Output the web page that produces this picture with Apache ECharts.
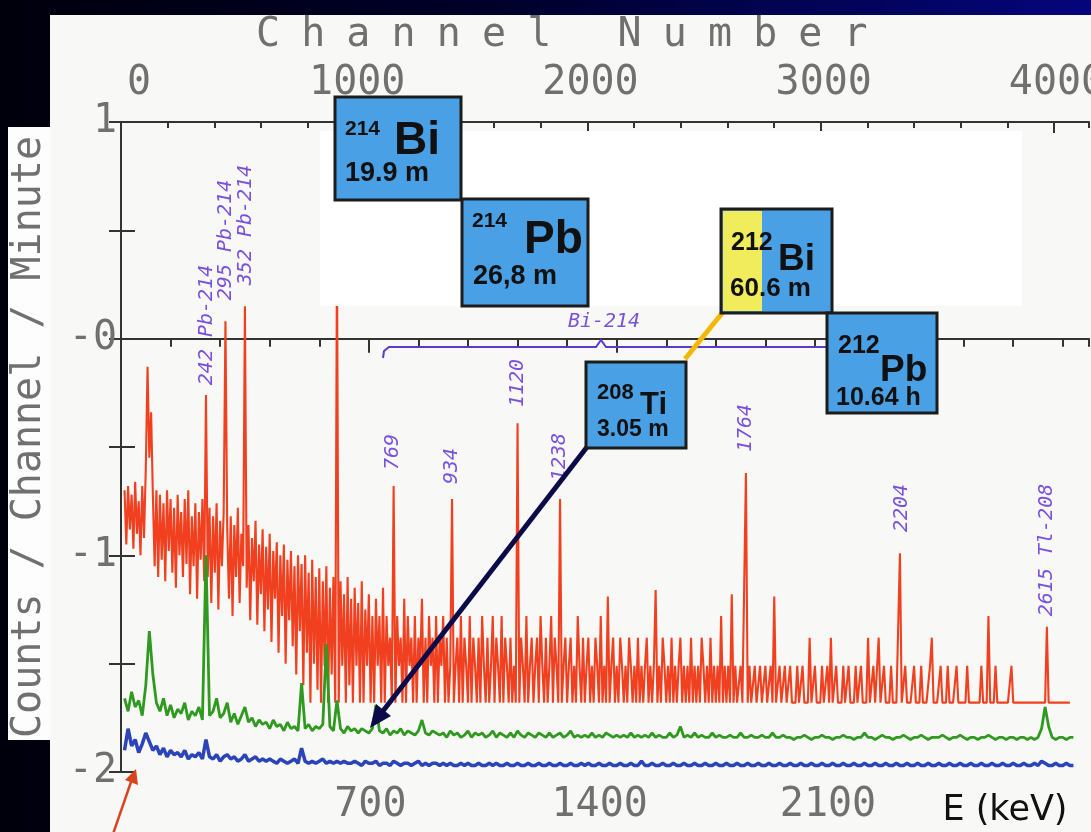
<!DOCTYPE html>
<html><head><meta charset="utf-8">
<script src="https://cdn.jsdelivr.net/npm/echarts@6/dist/echarts.min.js"></script>
<style>
html,body{margin:0;padding:0;width:1091px;height:832px;overflow:hidden;background:linear-gradient(90deg,#00000c 0%,#00002a 45%,#05057c 100%);}
#paper{position:absolute;left:50px;top:15px;width:1041px;height:817px;background:#f8f8f6;}
#chart{position:absolute;left:0;top:0;width:1091px;height:832px;}
</style></head><body><div id="paper"></div><div id="chart"></div>
<script>
// ---- data: log10(counts / channel / minute) ----
// red: 5 keV bins starting at 10 keV
const redStartKeV = 10, redBinKeV = 5;
const redSpectrum = [
-0.70,-0.95,-0.68,-0.88,-0.72,-0.97,-0.66,-0.90,-0.75,-1.00,
-0.68,-0.92,-0.60,-0.13,-0.55,-0.34,-0.72,-1.05,-0.70,-1.10,
-0.72,-1.02,-0.76,-1.12,-0.70,-0.98,-0.74,-1.08,-0.78,-1.15,
-0.72,-1.00,-0.80,-1.10,-0.74,-1.04,-0.70,-1.18,-0.82,-1.05,
-0.76,-1.20,-0.80,-1.02,-0.74,-1.12,-0.26,-1.10,-0.78,-1.22,
-0.82,-1.08,-0.76,-1.25,-0.84,-1.05,-0.80,0.08,-0.88,-1.20,
-0.82,-1.28,-0.86,-1.10,-0.78,-1.22,-0.90,-1.05,0.15,-1.15,
-0.86,-1.30,-0.92,-1.12,-0.84,-1.32,-0.95,-1.18,-0.88,-1.35,
-0.96,-1.25,-0.90,-1.40,-0.98,-1.20,-0.94,-1.45,-1.00,-1.28,
-0.95,-1.50,-1.02,-1.30,-0.98,-1.42,-1.05,-1.55,-1.00,-1.35,
-1.04,-1.60,-1.00,-1.45,-1.08,-1.68,-1.02,-1.50,-1.10,-1.62,
-1.06,-1.68,-1.12,-1.51,-1.05,-1.68,-1.15,-1.55,-1.10,-1.68,
0.40,-1.68,-1.12,-1.51,-1.18,-1.68,-1.10,-1.60,-1.20,-1.68,
-1.15,-1.51,-1.22,-1.68,-1.12,-1.68,-1.25,-1.51,-1.18,-1.68,
-1.28,-1.68,-1.20,-1.51,-1.28,-1.68,-1.15,-1.68,-1.28,-1.51,
-1.38,-1.68,-0.68,-1.68,-1.28,-1.51,-1.38,-1.68,-1.20,-1.68,
-1.28,-1.51,-1.38,-1.68,-1.28,-1.68,-1.38,-1.51,-1.20,-1.68,
-1.38,-1.68,-1.28,-1.51,-1.38,-1.68,-1.28,-1.68,-1.38,-1.51,
-1.28,-1.68,-1.38,-1.68,-1.51,-0.74,-1.68,-1.51,-1.38,-1.68,
-1.28,-1.68,-1.38,-1.51,-1.68,-1.28,-1.68,-1.38,-1.51,-1.68,
-1.38,-1.68,-1.28,-1.51,-1.68,-1.38,-1.68,-1.51,-1.28,-1.68,
-1.38,-1.51,-1.68,-1.28,-1.68,-1.38,-1.51,-1.68,-1.38,-1.68,
-1.51,-1.68,-0.39,-1.68,-1.38,-1.51,-1.68,-1.28,-1.68,-1.51,
-1.38,-1.68,-1.51,-1.38,-1.68,-1.28,-1.51,-1.68,-1.38,-1.68,
-1.51,-1.28,-1.68,-1.38,-1.51,-1.68,-0.74,-1.68,-1.51,-1.38,
-1.68,-1.51,-1.38,-1.68,-1.51,-1.68,-1.28,-1.51,-1.68,-1.38,
-1.68,-1.51,-1.38,-1.68,-1.51,-1.68,-1.38,-1.51,-1.68,-1.28,
-1.68,-1.51,-1.68,-1.19,-1.68,-1.51,-1.38,-1.68,-1.51,-1.68,
-1.38,-1.51,-1.68,-1.51,-1.68,-1.38,-1.51,-1.68,-1.51,-1.68,
-1.38,-1.68,-1.51,-1.68,-1.51,-1.38,-1.68,-1.51,-1.68,-1.51,
-1.16,-1.68,-1.51,-1.68,-1.38,-1.51,-1.68,-1.51,-1.68,-1.38,
-1.68,-1.51,-1.68,-1.51,-1.38,-1.68,-1.51,-1.68,-1.51,-1.68,
-1.38,-1.68,-1.51,-1.68,-1.51,-1.68,-1.38,-1.51,-1.68,-1.51,
-1.68,-1.38,-1.68,-1.51,-1.68,-1.51,-1.68,-1.28,-1.68,-1.51,
-1.68,-1.51,-1.68,-1.18,-1.68,-1.51,-1.68,-1.68,-1.51,-1.68,
-1.68,-0.62,-1.68,-1.51,-1.68,-1.68,-1.51,-1.68,-1.68,-1.51,
-1.68,-1.68,-1.51,-1.68,-1.68,-1.51,-1.68,-1.19,-1.68,-1.68,
-1.51,-1.68,-1.68,-1.51,-1.68,-1.68,-1.51,-1.68,-1.68,-1.68,
-1.51,-1.68,-1.68,-1.51,-1.68,-1.68,-1.68,-1.38,-1.68,-1.68,
-1.51,-1.68,-1.68,-1.68,-1.51,-1.68,-1.68,-1.51,-1.68,-1.38,
-1.68,-1.68,-1.51,-1.68,-1.68,-1.68,-1.51,-1.68,-1.68,-1.51,
-1.68,-1.68,-1.68,-1.51,-1.68,-1.68,-1.51,-1.68,-1.68,-1.68,
-1.38,-1.68,-1.68,-1.51,-1.68,-1.68,-1.38,-1.68,-1.68,-1.51,
-1.68,-1.68,-1.68,-1.51,-1.68,-1.68,-1.68,-1.68,-0.99,-1.68,
-1.68,-1.51,-1.68,-1.68,-1.68,-1.68,-1.51,-1.68,-1.68,-1.68,
-1.51,-1.68,-1.68,-1.68,-1.68,-1.51,-1.38,-1.68,-1.68,-1.68,
-1.68,-1.51,-1.68,-1.68,-1.68,-1.51,-1.68,-1.68,-1.68,-1.68,
-1.51,-1.68,-1.68,-1.68,-1.68,-1.68,-1.51,-1.68,-1.68,-1.68,
-1.68,-1.68,-1.68,-1.68,-1.51,-1.68,-1.68,-1.68,-1.28,-1.68,
-1.68,-1.68,-1.51,-1.68,-1.68,-1.68,-1.68,-1.68,-1.68,-1.68,
-1.68,-1.51,-1.68,-1.68,-1.68,-1.68,-1.68,-1.68,-1.68,-1.68,
-1.68,-1.68,-1.68,-1.68,-1.68,-1.68,-1.68,-1.68,-1.68,-1.68,
-1.68,-1.33,-1.68,-1.68,-1.68,-1.68,-1.68,-1.68,-1.68,-1.68,
-1.68,-1.68,-1.68,-1.68,-1.68
];
// green and blue: 10 keV bins starting at 10 keV
const gbStartKeV = 10, gbBinKeV = 10;
const greenSpectrum = [
-1.66,-1.72,-1.63,-1.70,-1.67,-1.74,-1.60,-1.35,-1.55,-1.68,
-1.72,-1.66,-1.74,-1.69,-1.75,-1.71,-1.73,-1.68,-1.76,-1.72,
-1.74,-1.70,-1.76,-1.00,-1.74,-1.72,-1.66,-1.75,-1.73,-1.68,
-1.77,-1.73,-1.78,-1.74,-1.70,-1.77,-1.75,-1.79,-1.76,-1.78,
-1.77,-1.80,-1.76,-1.79,-1.78,-1.81,-1.77,-1.80,-1.79,-1.81,
-1.59,-1.80,-1.78,-1.81,-1.79,-1.80,-1.78,-1.41,-1.79,-1.81,
-1.67,-1.80,-1.82,-1.79,-1.81,-1.80,-1.82,-1.80,-1.81,-1.82,
-1.80,-1.69,-1.81,-1.82,-1.80,-1.83,-1.81,-1.82,-1.80,-1.83,
-1.81,-1.82,-1.83,-1.81,-1.76,-1.82,-1.83,-1.81,-1.82,-1.83,
-1.82,-1.84,-1.81,-1.83,-1.82,-1.84,-1.83,-1.81,-1.84,-1.82,
-1.83,-1.82,-1.84,-1.83,-1.81,-1.84,-1.82,-1.83,-1.84,-1.82,
-1.84,-1.81,-1.83,-1.84,-1.82,-1.83,-1.84,-1.82,-1.83,-1.84,
-1.82,-1.84,-1.83,-1.82,-1.84,-1.83,-1.81,-1.84,-1.83,-1.84,
-1.83,-1.84,-1.82,-1.84,-1.83,-1.84,-1.82,-1.83,-1.84,-1.83,
-1.84,-1.83,-1.84,-1.82,-1.84,-1.83,-1.84,-1.83,-1.84,-1.82,
-1.84,-1.83,-1.84,-1.84,-1.82,-1.84,-1.83,-1.79,-1.84,-1.83,
-1.84,-1.82,-1.84,-1.83,-1.84,-1.84,-1.82,-1.84,-1.83,-1.84,
-1.84,-1.83,-1.84,-1.84,-1.82,-1.84,-1.84,-1.83,-1.84,-1.84,
-1.83,-1.84,-1.84,-1.82,-1.84,-1.84,-1.83,-1.84,-1.84,-1.85,
-1.84,-1.84,-1.83,-1.84,-1.85,-1.84,-1.84,-1.83,-1.84,-1.84,
-1.85,-1.84,-1.84,-1.83,-1.84,-1.84,-1.85,-1.84,-1.84,-1.82,
-1.84,-1.84,-1.85,-1.84,-1.83,-1.84,-1.84,-1.85,-1.84,-1.84,
-1.83,-1.84,-1.85,-1.84,-1.84,-1.83,-1.84,-1.85,-1.84,-1.84,
-1.84,-1.83,-1.84,-1.85,-1.84,-1.84,-1.83,-1.84,-1.85,-1.84,
-1.84,-1.85,-1.84,-1.84,-1.83,-1.84,-1.85,-1.84,-1.84,-1.85,
-1.84,-1.84,-1.85,-1.84,-1.84,-1.85,-1.84,-1.85,-1.84,-1.80,
-1.70,-1.79,-1.84,-1.85,-1.84,-1.84,-1.85,-1.84,-1.84
];
const blueSpectrum = [
-1.90,-1.80,-1.88,-1.85,-1.91,-1.87,-1.82,-1.86,-1.90,-1.88,
-1.92,-1.89,-1.93,-1.90,-1.92,-1.91,-1.93,-1.90,-1.94,-1.92,
-1.93,-1.91,-1.94,-1.85,-1.93,-1.94,-1.92,-1.95,-1.93,-1.92,
-1.94,-1.93,-1.95,-1.94,-1.92,-1.95,-1.94,-1.93,-1.95,-1.94,
-1.95,-1.94,-1.95,-1.96,-1.94,-1.95,-1.96,-1.95,-1.94,-1.96,
-1.89,-1.95,-1.96,-1.95,-1.96,-1.95,-1.94,-1.96,-1.95,-1.96,
-1.95,-1.96,-1.95,-1.96,-1.96,-1.95,-1.96,-1.97,-1.95,-1.96,
-1.96,-1.95,-1.97,-1.96,-1.96,-1.97,-1.95,-1.96,-1.97,-1.96,
-1.96,-1.97,-1.96,-1.95,-1.97,-1.96,-1.97,-1.96,-1.96,-1.97,
-1.96,-1.97,-1.96,-1.97,-1.97,-1.96,-1.97,-1.96,-1.97,-1.97,
-1.96,-1.97,-1.97,-1.96,-1.97,-1.96,-1.97,-1.97,-1.96,-1.97,
-1.97,-1.96,-1.97,-1.97,-1.96,-1.97,-1.97,-1.96,-1.97,-1.97,
-1.96,-1.97,-1.97,-1.96,-1.97,-1.97,-1.96,-1.97,-1.97,-1.96,
-1.97,-1.96,-1.97,-1.97,-1.96,-1.97,-1.97,-1.96,-1.97,-1.97,
-1.96,-1.97,-1.97,-1.96,-1.97,-1.97,-1.95,-1.97,-1.97,-1.96,
-1.97,-1.97,-1.96,-1.97,-1.97,-1.96,-1.97,-1.97,-1.96,-1.97,
-1.97,-1.96,-1.97,-1.97,-1.96,-1.97,-1.97,-1.96,-1.97,-1.97,
-1.96,-1.97,-1.97,-1.96,-1.97,-1.97,-1.96,-1.97,-1.97,-1.96,
-1.97,-1.97,-1.96,-1.97,-1.97,-1.96,-1.97,-1.97,-1.96,-1.97,
-1.97,-1.96,-1.97,-1.97,-1.96,-1.97,-1.97,-1.96,-1.97,-1.97,
-1.96,-1.97,-1.97,-1.96,-1.97,-1.97,-1.96,-1.97,-1.97,-1.96,
-1.97,-1.97,-1.96,-1.97,-1.97,-1.96,-1.97,-1.97,-1.96,-1.97,
-1.97,-1.96,-1.97,-1.97,-1.96,-1.97,-1.97,-1.96,-1.97,-1.97,
-1.96,-1.97,-1.97,-1.96,-1.97,-1.97,-1.96,-1.97,-1.97,-1.96,
-1.97,-1.97,-1.96,-1.97,-1.97,-1.96,-1.97,-1.97,-1.96,-1.97,
-1.97,-1.96,-1.97,-1.97,-1.96,-1.97,-1.97,-1.96,-1.97,-1.95,
-1.96,-1.97,-1.97,-1.96,-1.97,-1.97,-1.96,-1.97,-1.97
];
// peak annotations
const peakLabels = ['242 Pb-214','295 Pb-214','352 Pb-214','769','934','1120','1238','1764','2204','2615 Tl-208'];
const peakEnergies = [242,295,352,769,934,1120,1238,1764,2204,2615];
// axis tick labels
const energyTickLabels = [700,1400,2100];
const channelTickLabels = [0,1000,2000,3000,4000];
const logTickLabels = {'1':'1','0':'-0','-1':'-1','-2':'-2'};
const axisTitleTop = 'Channel Number';
const axisTitleLeft = 'Counts / Channel / Minute';
const axisTitleBottom = 'E (keV)';
// isotope boxes
const isotopes = [
  {mass:'214', sym:'Bi', life:'19.9 m'},
  {mass:'214', sym:'Pb', life:'26,8 m'},
  {mass:'212', sym:'Bi', life:'60.6 m'},
  {mass:'212', sym:'Pb', life:'10.64 h'},
  {mass:'208', sym:'Ti', life:'3.05 m'}
];
const bracketLabel = 'Bi-214';

// ---- layout / style ----
const keVPerChannel = 0.6588;
const energyMax = 2734;
const monoFont = '"DejaVu Sans Mono", monospace';
const boxFont = '"Liberation Sans", Arial, sans-serif';
const axisGray = '#707070';
const purple = '#7a50e0';
const peakLabelCenterY = [325, 240, 225, 452, 466, 383, 457, 428, 508, 550];
const boxLayout = [
  {x:335,y:97,w:126,h:103, mFs:21,sFs:46,lFs:27, mY:129,sY:141,lY:174, mX:345,sX:394,lX:345},
  {x:462,y:199,w:126,h:107, mFs:21,sFs:46,lFs:27, mY:221,sY:240,lY:277, mX:472,sX:524,lX:473},
  {x:721,y:209,w:111,h:104, mFs:25,sFs:37,lFs:26, mY:243,sY:260,lY:289, mX:731,sX:778,lX:730, yellow:39},
  {x:827,y:313,w:110,h:100, mFs:25,sFs:37,lFs:25, mY:346,sY:371,lY:398, mX:838,sX:880,lX:836},
  {x:586,y:362,w:100,h:86, mFs:22,sFs:31,lFs:23, mY:393,sY:405,lY:430, mX:597,sX:640,lX:597}
];

const redPairs = redSpectrum.map((v, i) => [redStartKeV + i * redBinKeV, v]);
const gbPairs = arr => arr.map((v, i) => [gbStartKeV + i * gbBinKeV, v]);
const chart = echarts.init(document.getElementById('chart'), null, {renderer:'canvas'});

const lineAx = {lineStyle:{color:'#333', width:2}};
const baseY = {type:'value', min:-2, max:1, splitLine:{show:false}};
const labelFont = {fontSize:40, fontFamily:monoFont, color:axisGray};
const option = {
  backgroundColor:'transparent',
  animation:false,
  grid:{left:121, right:2, top:122, bottom:60, containLabel:false, outerBoundsMode:'none'},
  xAxis:[
    {type:'value', position:'bottom', min:0, max:energyMax, interval:140, splitLine:{show:false},
     axisLine:lineAx, axisTick:{length:8, lineStyle:{color:'#333', width:2}}, axisLabel:{show:false}},
    {type:'value', position:'bottom', min:0, max:energyMax, interval:700, splitLine:{show:false},
     axisLine:{show:false}, axisTick:{length:14, lineStyle:{color:'#333', width:2}},
     axisLabel:{margin:14, showMaxLabel:false,
       formatter: v => v === energyTickLabels[0] ? '{a|' + v + '}' : v === energyTickLabels[1] ? '{b|' + v + '}' : v === energyTickLabels[2] ? '{c|' + v + '}' : '',
       rich:{a:Object.assign({padding:[0,0,0,3]}, labelFont),
             b:Object.assign({padding:[0,34,0,0]}, labelFont),
             c:Object.assign({padding:[0,73,0,0]}, labelFont)}}},
    {type:'value', position:'top', min:0, max:energyMax / keVPerChannel, interval:200, splitLine:{show:false},
     axisLine:lineAx, axisTick:{inside:true, length:6, lineStyle:{color:'#333', width:2}}, axisLabel:{show:false}},
    {type:'value', position:'top', min:0, max:energyMax / keVPerChannel, interval:1000, splitLine:{show:false},
     axisLine:{show:false}, axisTick:{inside:true, length:11, lineStyle:{color:'#333', width:2}},
     axisLabel:Object.assign({margin:18, alignMinLabel:'left', showMaxLabel:false, padding:[0,0,0,6],
       formatter: v => channelTickLabels.indexOf(v) >= 0 ? String(v) : ''}, labelFont)}
  ],
  yAxis:[
    Object.assign({}, baseY, {position:'left', interval:0.5, axisLine:lineAx,
      axisTick:{inside:true, length:14, lineStyle:{color:'#333', width:2}},
      axisLabel:Object.assign({margin:4,
        formatter: v => logTickLabels[String(v)] !== undefined ? logTickLabels[String(v)] : ''}, labelFont)}),
    Object.assign({}, baseY, {position:'right', interval:0.5, axisLine:lineAx,
      axisTick:{inside:true, length:12, lineStyle:{color:'#333', width:2}}, axisLabel:{show:false}})
  ],
  series:[
    {name:'red', type:'line', xAxisIndex:0, yAxisIndex:0, data:redPairs, showSymbol:false,
     lineStyle:{color:'#f0401f', width:2.1}, z:3},
    {name:'green', type:'line', xAxisIndex:0, yAxisIndex:0, data:gbPairs(greenSpectrum), showSymbol:false,
     lineStyle:{color:'#2f9a1f', width:2.8}, z:4},
    {name:'blue', type:'line', xAxisIndex:0, yAxisIndex:0, data:gbPairs(blueSpectrum), showSymbol:false,
     lineStyle:{color:'#2b45b8', width:3.5}, z:5}
  ]
};
chart.setOption(option);

const px = e => chart.convertToPixel({xAxisIndex:0}, e);
const g = [];
const Z = 100;
// left axis title panel
g.push({type:'rect', z:Z, shape:{x:8, y:127, width:43, height:613}, style:{fill:'#fdfdfd'}});
g.push({type:'text', z:Z+1, x:30, y:437, rotation:Math.PI/2,
  style:{text:axisTitleLeft, font:'40px ' + monoFont, fill:axisGray, align:'center', verticalAlign:'middle'}});
// top title, wide letter spacing
axisTitleTop.split('').forEach((ch, i) => {
  g.push({type:'text', z:Z, style:{text:ch, x:268 + i * 45.2, y:36, font:'40px ' + monoFont, fill:axisGray, align:'center', verticalAlign:'middle'}});
});
// bottom title
g.push({type:'text', z:Z, style:{text:axisTitleBottom, x:1005, y:811, font:'35px "DejaVu Sans", sans-serif', fill:'#111', align:'center', verticalAlign:'middle'}});
// white cover
g.push({type:'rect', z:Z, shape:{x:320, y:131, width:702, height:175}, style:{fill:'#ffffff'}});
// Bi-214 bracket
g.push({type:'polyline', z:Z, shape:{points:[[383,358],[384,351],[389,347],[596,347],[601,340],[606,347],[826,347]]},
  style:{stroke:'#5a3cc8', lineWidth:2, fill:null}});
g.push({type:'text', z:Z, style:{text:bracketLabel, x:604, y:322, font:'italic 20px ' + monoFont, fill:purple, align:'center', verticalAlign:'middle'}});
// peak labels
peakLabels.forEach((t, i) => {
  g.push({type:'text', z:Z, x:px(peakEnergies[i]), y:peakLabelCenterY[i], rotation:Math.PI/2,
    style:{text:t, font:'italic 20px ' + monoFont, fill:purple, align:'center', verticalAlign:'middle'}});
});
// isotope boxes
isotopes.forEach((iso, i) => {
  const b = boxLayout[i];
  g.push({type:'rect', z:Z+2, shape:{x:b.x, y:b.y, width:b.w, height:b.h}, style:{fill:'#4aa0e4', stroke:'#1c1c1c', lineWidth:3}});
  if (b.yellow) g.push({type:'rect', z:Z+3, shape:{x:b.x + 2, y:b.y + 2, width:b.yellow, height:b.h - 4}, style:{fill:'#f1ec5c'}});
  g.push({type:'text', z:Z+4, style:{text:iso.mass, x:b.mX, y:b.mY, font:'bold ' + b.mFs + 'px ' + boxFont, fill:'#111', align:'left', verticalAlign:'middle'}});
  g.push({type:'text', z:Z+4, style:{text:iso.sym, x:b.sX, y:b.sY, font:'bold ' + b.sFs + 'px ' + boxFont, fill:'#111', align:'left', verticalAlign:'middle'}});
  g.push({type:'text', z:Z+4, style:{text:iso.life, x:b.lX, y:b.lY, font:'bold ' + b.lFs + 'px ' + boxFont, fill:'#111', align:'left', verticalAlign:'middle'}});
});
// connectors and arrows
g.push({type:'line', z:Z+1, shape:{x1:723, y1:312, x2:685, y2:359}, style:{stroke:'#f5b800', lineWidth:5}});
g.push({type:'line', z:Z+1, shape:{x1:587, y1:447, x2:383, y2:711}, style:{stroke:'#0b0b4a', lineWidth:5}});
g.push({type:'polygon', z:Z+1, shape:{points:[[370,728],[391,716],[376,704]]}, style:{fill:'#0b0b4a'}});
g.push({type:'line', z:Z+1, shape:{x1:113, y1:834, x2:131, y2:782}, style:{stroke:'#d9441c', lineWidth:2.5}});
g.push({type:'polygon', z:Z+1, shape:{points:[[136,769],[138,785],[125,780]]}, style:{fill:'#d9441c'}});

chart.setOption({graphic:{elements:g}});
</script>
</body></html>
